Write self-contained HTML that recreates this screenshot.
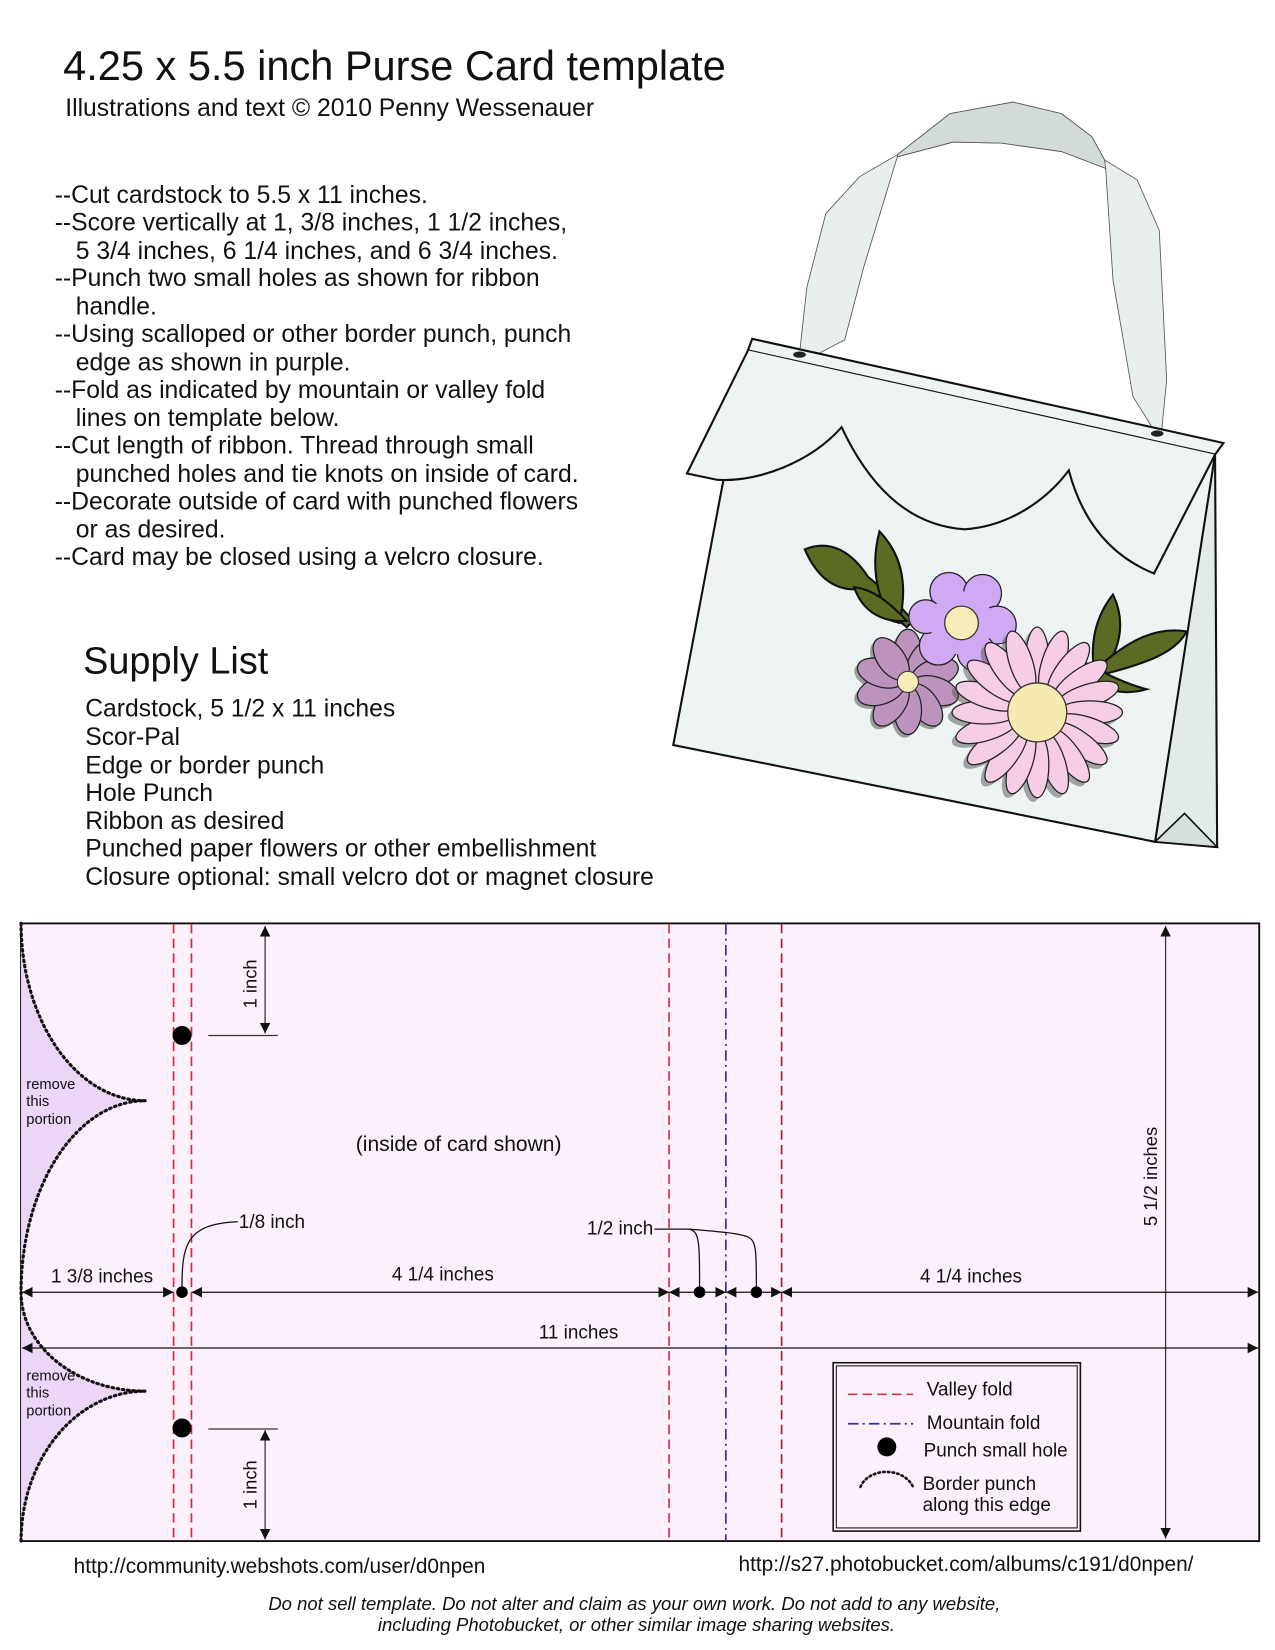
<!DOCTYPE html>
<html><head><meta charset="utf-8"><style>
html,body{margin:0;padding:0;background:#fff;}
svg{display:block;}
text{font-family:"Liberation Sans",Arial,sans-serif;fill:#111;}
</style></head><body>
<svg width="1275" height="1650" viewBox="0 0 1212 1568" preserveAspectRatio="none" xmlns="http://www.w3.org/2000/svg">
<defs>
<ellipse id="dp" cx="0" cy="-50" rx="11" ry="31"/>
<ellipse id="mp" cx="0" cy="-27" rx="13" ry="23"/>
<marker id="aE" markerWidth="10" markerHeight="10" refX="10" refY="5" orient="auto" markerUnits="userSpaceOnUse"><path d="M0,0 L10,5 L0,10z" fill="#111"/></marker>
<marker id="aS" markerWidth="10" markerHeight="10" refX="0" refY="5" orient="auto" markerUnits="userSpaceOnUse"><path d="M10,0 L0,5 L10,10z" fill="#111"/></marker>
</defs>

<text x="60" y="76" font-size="39.5">4.25 x 5.5 inch Purse Card template</text>
<text x="62" y="110" font-size="23.5">Illustrations and text © 2010 Penny Wessenauer</text>

<g font-size="23.5">
<text x="52" y="193">--Cut cardstock to 5.5 x 11 inches.</text>
<text x="52" y="219">--Score vertically at 1, 3/8 inches, 1 1/2 inches,</text>
<text x="72" y="246">5 3/4 inches, 6 1/4 inches, and 6 3/4 inches.</text>
<text x="52" y="272">--Punch two small holes as shown for ribbon</text>
<text x="72" y="299">handle.</text>
<text x="52" y="325">--Using scalloped or other border punch, punch</text>
<text x="72" y="352">edge as shown in purple.</text>
<text x="52" y="378">--Fold as indicated by mountain or valley fold</text>
<text x="72" y="405">lines on template below.</text>
<text x="52" y="431">--Cut length of ribbon. Thread through small</text>
<text x="72" y="458">punched holes and tie knots on inside of card.</text>
<text x="52" y="484">--Decorate outside of card with punched flowers</text>
<text x="72" y="511">or as desired.</text>
<text x="52" y="537">--Card may be closed using a velcro closure.</text>
</g>

<text x="79" y="640" font-size="36">Supply List</text>
<g font-size="23.5">
<text x="81" y="681">Cardstock, 5 1/2 x 11 inches</text>
<text x="81" y="708">Scor-Pal</text>
<text x="81" y="735">Edge or border punch</text>
<text x="81" y="761">Hole Punch</text>
<text x="81" y="788">Ribbon as desired</text>
<text x="81" y="814">Punched paper flowers or other embellishment</text>
<text x="81" y="841">Closure optional: small velcro dot or magnet closure</text>
</g>

<!-- purse -->
<path d="M760,336 L767,273 L785,203 L817,168 L853,147 L903,108 L963,97 L1009,108 L1038,130 L1050,152 L1081,171 L1102,219 L1109,361 L1104,412 L1099,412 L1077,377 L1058,266 L1051,160 L1009,144 L952,136 L906,135 L853,149 L821,254 L803,323 L778,336 Z" fill="#e8efec" stroke="#555" stroke-width="0.8"/>
<path d="M853,147 L903,108 L963,97 L1009,108 L1038,130 L1050,152 L1051,160 L1009,144 L952,136 L906,135 L853,149 Z" fill="#d3dbd9" stroke="#555" stroke-width="0.8"/>
<polygon points="1098,800 1155,425 1157,805" fill="#e3ebea" stroke="#111" stroke-width="2"/>
<polygon points="1098,800 1126,773 1157,805" fill="#d6dede" stroke="#111" stroke-width="1.5"/>
<polygon points="715,322 1163,421 1155,432 711,333" fill="#eef4f3" stroke="#111" stroke-width="2"/>
<polygon points="711,333 1155,432 1098,800 640,708" fill="#edf4f3" stroke="#111" stroke-width="2"/>
<path d="M711,333 L653,450 L682,456 C720,458 770,440 800,406 C830,470 870,500 917,503 C960,500 995,475 1016,447 C1030,500 1060,530 1097,545 L1155,432" fill="#edf4f3" stroke="#111" stroke-width="2"/>
<ellipse cx="760" cy="337" rx="6" ry="3" fill="#222"/>
<ellipse cx="1100" cy="412" rx="6" ry="3" fill="#222"/>

<g stroke="#111" stroke-width="2" fill="#5b6b23">
<path d="M765,522 C790,512 810,525 825,548 C840,560 855,575 868,590 L862,596 C845,582 830,570 812,560 C790,560 775,545 765,522Z"/>
<path d="M836,505 C860,530 862,560 855,592 L848,590 C832,565 828,535 836,505Z"/>
<path d="M812,558 C830,560 845,572 862,590 C840,592 820,582 812,558Z"/>
<path d="M1058,565 C1070,590 1066,615 1048,640 L1040,636 C1036,610 1042,585 1058,565Z"/>
<path d="M1046,632 C1070,612 1095,595 1128,600 C1118,620 1090,630 1052,640Z"/>
<path d="M1032,630 C1050,640 1070,650 1090,655 C1065,662 1045,655 1032,640Z"/>
</g>
<!-- mauve flower -->
<g transform="translate(863,648)">
<g fill="#555" opacity="0.55" transform="translate(-3,3)">
<use href="#mp" transform="rotate(0)"/><use href="#mp" transform="rotate(36)"/><use href="#mp" transform="rotate(72)"/><use href="#mp" transform="rotate(108)"/><use href="#mp" transform="rotate(144)"/><use href="#mp" transform="rotate(180)"/><use href="#mp" transform="rotate(216)"/><use href="#mp" transform="rotate(252)"/><use href="#mp" transform="rotate(288)"/><use href="#mp" transform="rotate(324)"/>
</g>
<g fill="#bc93bc" stroke="#222" stroke-width="1.2">
<use href="#mp" transform="rotate(0)"/><use href="#mp" transform="rotate(36)"/><use href="#mp" transform="rotate(72)"/><use href="#mp" transform="rotate(108)"/><use href="#mp" transform="rotate(144)"/><use href="#mp" transform="rotate(180)"/><use href="#mp" transform="rotate(216)"/><use href="#mp" transform="rotate(252)"/><use href="#mp" transform="rotate(288)"/><use href="#mp" transform="rotate(324)"/>
</g>
<circle r="10" fill="#f7edb8" stroke="#333" stroke-width="1"/>
</g>
<!-- purple flower -->
<g transform="translate(914,592)">
<g fill="#cfa9f3" stroke="#222" stroke-width="1.2">
<circle cx="-12" cy="-30" r="18"/><circle cx="20" cy="-28" r="18"/><circle cx="34" cy="2" r="18"/><circle cx="14" cy="28" r="18"/><circle cx="-22" cy="22" r="18"/><circle cx="-34" cy="-6" r="16"/>
<circle r="30" stroke="none"/>
</g>
<circle r="16" fill="#f7edb8" stroke="#333" stroke-width="1.2"/>
</g>
<!-- daisy -->
<g transform="translate(986,677)">
<g fill="#555" opacity="0.5" transform="translate(-4,4)">
<use href="#dp" transform="rotate(0)"/><use href="#dp" transform="rotate(18)"/><use href="#dp" transform="rotate(36)"/><use href="#dp" transform="rotate(54)"/><use href="#dp" transform="rotate(72)"/><use href="#dp" transform="rotate(90)"/><use href="#dp" transform="rotate(108)"/><use href="#dp" transform="rotate(126)"/><use href="#dp" transform="rotate(144)"/><use href="#dp" transform="rotate(162)"/><use href="#dp" transform="rotate(180)"/><use href="#dp" transform="rotate(198)"/><use href="#dp" transform="rotate(216)"/><use href="#dp" transform="rotate(234)"/><use href="#dp" transform="rotate(252)"/><use href="#dp" transform="rotate(270)"/><use href="#dp" transform="rotate(288)"/><use href="#dp" transform="rotate(306)"/><use href="#dp" transform="rotate(324)"/><use href="#dp" transform="rotate(342)"/>
</g>
<g fill="#f6cde4" stroke="#222" stroke-width="1.2">
<use href="#dp" transform="rotate(0)"/><use href="#dp" transform="rotate(18)"/><use href="#dp" transform="rotate(36)"/><use href="#dp" transform="rotate(54)"/><use href="#dp" transform="rotate(72)"/><use href="#dp" transform="rotate(90)"/><use href="#dp" transform="rotate(108)"/><use href="#dp" transform="rotate(126)"/><use href="#dp" transform="rotate(144)"/><use href="#dp" transform="rotate(162)"/><use href="#dp" transform="rotate(180)"/><use href="#dp" transform="rotate(198)"/><use href="#dp" transform="rotate(216)"/><use href="#dp" transform="rotate(234)"/><use href="#dp" transform="rotate(252)"/><use href="#dp" transform="rotate(270)"/><use href="#dp" transform="rotate(288)"/><use href="#dp" transform="rotate(306)"/><use href="#dp" transform="rotate(324)"/><use href="#dp" transform="rotate(342)"/>
</g>
<circle r="28" fill="#f7eab0" stroke="#333" stroke-width="1.2"/>
</g>

<!-- template -->
<rect x="20" y="877.5" width="1177" height="587" fill="#fcf0fc" stroke="#111" stroke-width="1.8"/>
<path d="M20,877.5 A118,169 0 0 0 138,1046 A118,182 0 0 0 20,1228 Z" fill="#ecd6f7"/>
<path d="M20,1228 A118,94 0 0 0 138,1322 A118,143 0 0 0 20,1465 Z" fill="#ecd6f7"/>
<path d="M20,877.5 A118,169 0 0 0 138,1046 A118,182 0 0 0 20,1228 A118,94 0 0 0 138,1322 A118,143 0 0 0 20,1465" fill="none" stroke="#111" stroke-width="3" stroke-dasharray="1.5,3.5" stroke-linecap="round"/>

<g stroke-width="1.6" fill="none">
<line x1="165" y1="878" x2="165" y2="1465" stroke="#d42a3a" stroke-dasharray="9,5"/>
<line x1="182" y1="878" x2="182" y2="1465" stroke="#d42a3a" stroke-dasharray="9,5"/>
<line x1="636" y1="878" x2="636" y2="1465" stroke="#e0303e" stroke-dasharray="9,5"/>
<line x1="690" y1="878" x2="690" y2="1465" stroke="#3030b0" stroke-dasharray="10,4,2,4"/>
<line x1="743" y1="878" x2="743" y2="1465" stroke="#a0203a" stroke-dasharray="9,5"/>
</g>

<circle cx="173" cy="984" r="9" fill="#000"/>
<circle cx="173" cy="1357" r="9" fill="#000"/>
<g stroke="#333" stroke-width="1.2">
<line x1="198" y1="984" x2="264" y2="984"/>
<line x1="252" y1="880" x2="252" y2="982" marker-start="url(#aS)" marker-end="url(#aE)"/>
<line x1="198" y1="1358" x2="264" y2="1358"/>
<line x1="252" y1="1359" x2="252" y2="1463" marker-start="url(#aS)" marker-end="url(#aE)"/>
<line x1="1108" y1="880" x2="1108" y2="1462" marker-start="url(#aS)" marker-end="url(#aE)"/>
</g>
<text transform="translate(244,935) rotate(-90)" font-size="17.5" text-anchor="middle">1 inch</text>
<text transform="translate(244,1411) rotate(-90)" font-size="17.5" text-anchor="middle">1 inch</text>
<text transform="translate(1100,1118) rotate(-90)" font-size="17.5" text-anchor="middle">5 1/2 inches</text>

<g stroke="#111" stroke-width="1.2">
<line x1="21" y1="1228" x2="165" y2="1228" marker-start="url(#aS)" marker-end="url(#aE)"/>
<line x1="182" y1="1228" x2="636" y2="1228" marker-start="url(#aS)" marker-end="url(#aE)"/>
<line x1="636" y1="1228" x2="690" y2="1228" marker-start="url(#aS)" marker-end="url(#aE)"/>
<line x1="690" y1="1228" x2="743" y2="1228" marker-start="url(#aS)" marker-end="url(#aE)"/>
<line x1="743" y1="1228" x2="1196" y2="1228" marker-start="url(#aS)" marker-end="url(#aE)"/>
<line x1="21" y1="1281" x2="1196" y2="1281" marker-start="url(#aS)" marker-end="url(#aE)"/>
</g>
<circle cx="173" cy="1228" r="5.5" fill="#000"/>
<circle cx="665" cy="1228" r="5.5" fill="#000"/>
<circle cx="719" cy="1228" r="5.5" fill="#000"/>
<g stroke="#111" stroke-width="1.2" fill="none">
<path d="M173,1226 C173,1185 175,1163 226,1161"/>
<path d="M622,1168 L655,1168 C665,1170 665,1180 665,1226"/>
<path d="M655,1168 C680,1170 705,1172 712,1176 C719,1180 719,1190 719,1226"/>
</g>
<g font-size="18">
<text x="227" y="1167">1/8 inch</text>
<text x="558" y="1173">1/2 inch</text>
<text x="97" y="1219" text-anchor="middle">1 3/8 inches</text>
<text x="421" y="1217" text-anchor="middle">4 1/4 inches</text>
<text x="923" y="1219" text-anchor="middle">4 1/4 inches</text>
<text x="550" y="1272" text-anchor="middle">11 inches</text>
<text x="436" y="1094" text-anchor="middle" font-size="20">(inside of card shown)</text>
</g>
<g font-size="14">
<text x="25" y="1035">remove</text><text x="25" y="1051">this</text><text x="25" y="1068">portion</text>
<text x="25" y="1312">remove</text><text x="25" y="1328">this</text><text x="25" y="1345">portion</text>
</g>

<rect x="792" y="1295" width="235" height="160" fill="none" stroke="#111" stroke-width="1.5"/>
<rect x="795" y="1298" width="229" height="154" fill="none" stroke="#111" stroke-width="1"/>
<line x1="806" y1="1325" x2="868" y2="1325" stroke="#e0303e" stroke-width="1.6" stroke-dasharray="9,5"/>
<line x1="806" y1="1353" x2="868" y2="1353" stroke="#3030b0" stroke-width="1.6" stroke-dasharray="10,4,2,4"/>
<circle cx="843" cy="1375" r="9" fill="#000"/>
<path d="M818,1413 C825,1395 858,1393 868,1413" fill="none" stroke="#111" stroke-width="2.5" stroke-dasharray="1.5,3" stroke-linecap="round"/>
<g font-size="18">
<text x="881" y="1326">Valley fold</text>
<text x="881" y="1358">Mountain fold</text>
<text x="878" y="1384">Punch small hole</text>
<text x="877" y="1416">Border punch</text>
<text x="877" y="1436">along this edge</text>
</g>

<text x="70" y="1495" font-size="19.8">http://community.webshots.com/user/d0npen</text>
<text x="702" y="1493" font-size="19.8">http://s27.photobucket.com/albums/c191/d0npen/</text>
<g font-size="17.6" font-style="italic" text-anchor="middle">
<text x="603" y="1530">Do not sell template. Do not alter and claim as your own work. Do not add to any website,</text>
<text x="605" y="1550">including Photobucket, or other similar image sharing websites.</text>
</g>
</svg>
</body></html>
